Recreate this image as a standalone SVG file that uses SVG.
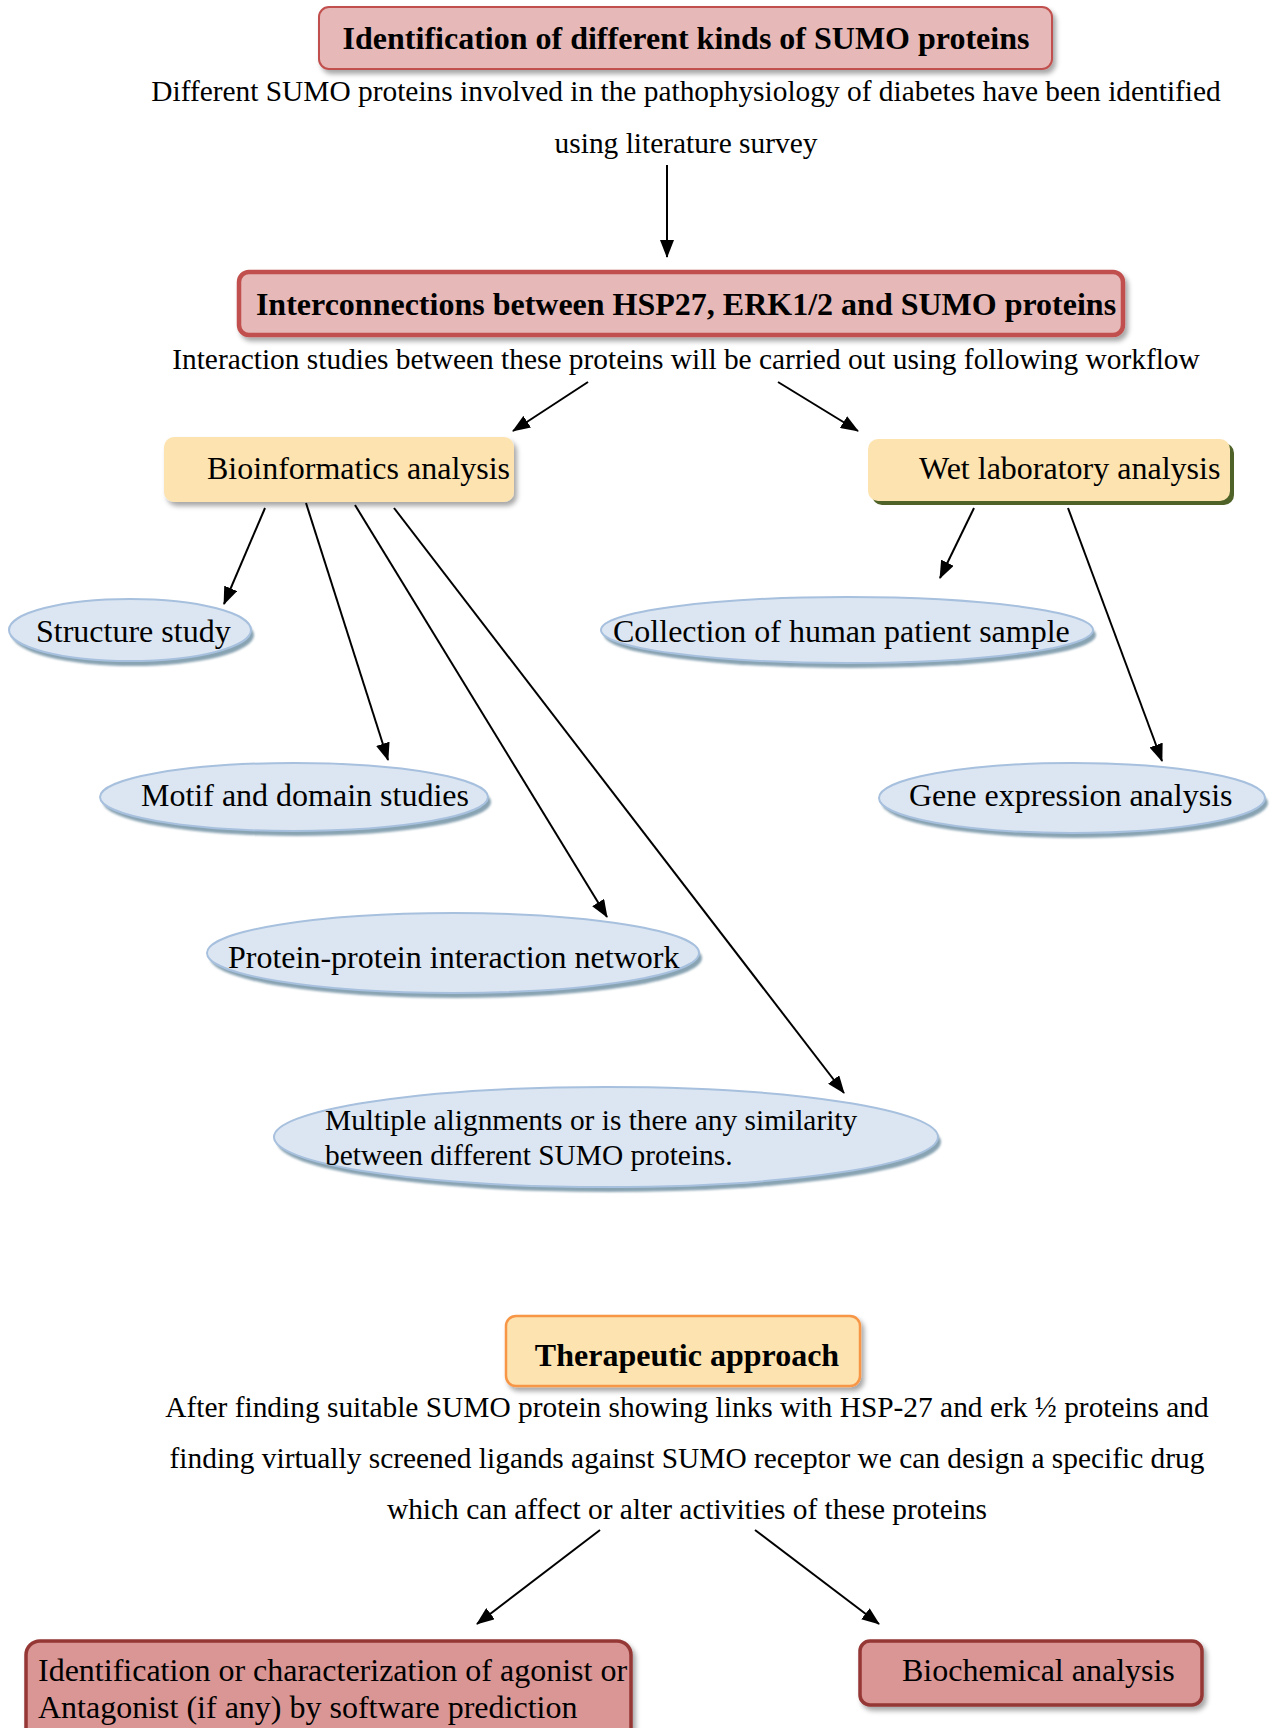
<svg xmlns="http://www.w3.org/2000/svg" width="1272" height="1728" viewBox="0 0 1272 1728">
<style>
  text { font-family: "Liberation Serif", "Times New Roman", serif; fill: #000; }
  .t32 { font-size: 32px; }
  .b32 { font-size: 32px; font-weight: bold; }
  .t29 { font-size: 29.4px; }
  .mid { text-anchor: middle; }
  .pink { fill: #e6b9b8; stroke: #c0504d; }
  .peach { fill: #fde3b0; }
  .ell { fill: #dce6f2; stroke: #a7c0de; stroke-width: 2; }
  .ellsh { fill: #88a3b2; }
  .rose { fill: #d99694; stroke: #953735; stroke-width: 3.5; }
  .conn line { stroke: #000; stroke-width: 2; marker-end: url(#ah); }
</style>
<defs>
  <marker id="ah" viewBox="0 0 18 14" refX="17" refY="7" markerWidth="18" markerHeight="14" markerUnits="userSpaceOnUse" orient="auto">
    <path d="M0,0 L18,7 L0,14 z" fill="#000"/>
  </marker>
  <filter id="sh" x="-10%" y="-20%" width="120%" height="150%">
    <feDropShadow dx="3" dy="4" stdDeviation="2.5" flood-color="#000" flood-opacity="0.35"/>
  </filter>
  <filter id="blur" x="-10%" y="-20%" width="120%" height="150%">
    <feGaussianBlur stdDeviation="1.2"/>
  </filter>
</defs>
<rect width="1272" height="1728" fill="#fff"/>

<g id="n-identification">
  <rect class="pink" x="319" y="7" width="733" height="62" rx="10" stroke-width="2" filter="url(#sh)"/>
  <text class="b32 mid" x="686" y="49">Identification of different kinds of SUMO proteins</text>
  <text class="t29 mid" x="686" y="101">Different SUMO proteins involved in the pathophysiology of diabetes have been identified</text>
  <text class="t29 mid" x="686" y="153">using literature survey</text>
</g>

<g id="n-interconnections">
  <rect class="pink" x="239" y="272" width="884" height="63" rx="10" stroke-width="4.5" filter="url(#sh)"/>
  <text class="b32 mid" x="686" y="315">Interconnections between HSP27, ERK1/2 and SUMO proteins</text>
  <text class="t29 mid" x="686" y="369">Interaction studies between these proteins will be carried out using following workflow</text>
</g>

<g id="n-bioinformatics">
  <rect class="peach" x="164" y="437" width="350" height="65" rx="10" filter="url(#sh)"/>
  <text class="t32" x="207" y="479">Bioinformatics analysis</text>
</g>

<g id="n-wetlab">
  <rect x="872" y="443" width="362" height="62" rx="10" fill="#4f6228"/>
  <rect class="peach" x="868" y="439" width="362" height="62" rx="10"/>
  <text class="t32" x="919" y="479">Wet laboratory analysis</text>
</g>

<g id="n-structure">
  <ellipse class="ellsh" cx="133" cy="635" rx="121" ry="31" filter="url(#blur)"/>
  <ellipse class="ell" cx="130" cy="630" rx="121" ry="31"/>
  <text class="t32" x="36" y="642">Structure study</text>
</g>

<g id="n-collection">
  <ellipse class="ellsh" cx="850" cy="635" rx="246" ry="33" filter="url(#blur)"/>
  <ellipse class="ell" cx="847" cy="630" rx="246" ry="33"/>
  <text class="t32" x="613" y="642">Collection of human patient sample</text>
</g>

<g id="n-motif">
  <ellipse class="ellsh" cx="297" cy="802" rx="194" ry="34" filter="url(#blur)"/>
  <ellipse class="ell" cx="294" cy="797" rx="194" ry="34"/>
  <text class="t32" x="141" y="806">Motif and domain studies</text>
</g>

<g id="n-gene">
  <ellipse class="ellsh" cx="1075" cy="803" rx="193" ry="35" filter="url(#blur)"/>
  <ellipse class="ell" cx="1072" cy="798" rx="193" ry="35"/>
  <text class="t32" x="909" y="806">Gene expression analysis</text>
</g>

<g id="n-ppi">
  <ellipse class="ellsh" cx="456" cy="958" rx="246" ry="40" filter="url(#blur)"/>
  <ellipse class="ell" cx="453" cy="953" rx="246" ry="40"/>
  <text class="t32" x="228" y="968">Protein-protein interaction network</text>
</g>

<g id="n-multiple">
  <ellipse class="ellsh" cx="609" cy="1142" rx="332" ry="50" filter="url(#blur)"/>
  <ellipse class="ell" cx="606" cy="1137" rx="332" ry="50"/>
  <text class="t29" x="325" y="1130">Multiple alignments or is there any similarity</text>
  <text class="t29" x="325" y="1165">between different SUMO proteins.</text>
</g>

<g id="n-therapeutic">
  <rect class="peach" x="506" y="1316" width="354" height="70" rx="10" stroke="#f79646" stroke-width="2.5" filter="url(#sh)"/>
  <text class="b32 mid" x="687" y="1366">Therapeutic approach</text>
  <text class="t29 mid" x="687" y="1417">After finding suitable SUMO protein showing links with HSP-27 and erk ½ proteins and</text>
  <text class="t29 mid" x="687" y="1468">finding virtually screened ligands against SUMO receptor we can design a specific drug</text>
  <text class="t29 mid" x="687" y="1519">which can affect or alter activities of these proteins</text>
</g>

<g id="n-agonist">
  <rect class="rose" x="26" y="1641" width="605" height="110" rx="14" filter="url(#sh)"/>
  <text class="t32" x="38" y="1681">Identification or characterization of agonist or</text>
  <text class="t32" x="38" y="1718">Antagonist (if any) by software prediction</text>
</g>

<g id="n-biochemical">
  <rect class="rose" x="860" y="1641" width="342" height="64" rx="10" stroke-width="2.5" filter="url(#sh)"/>
  <text class="t32" x="902" y="1681">Biochemical analysis</text>
</g>

<g id="connectors" class="conn">
  <line x1="667" y1="165" x2="667" y2="257"/>
  <line x1="588" y1="382" x2="513" y2="431"/>
  <line x1="778" y1="382" x2="858" y2="431"/>
  <line x1="265" y1="508" x2="224" y2="604"/>
  <line x1="306" y1="503" x2="388" y2="760"/>
  <line x1="355" y1="505" x2="607" y2="917"/>
  <line x1="394" y1="508" x2="844" y2="1093"/>
  <line x1="974" y1="508" x2="940" y2="578"/>
  <line x1="1068" y1="508" x2="1162" y2="761"/>
  <line x1="600" y1="1530" x2="477" y2="1624"/>
  <line x1="755" y1="1530" x2="879" y2="1624"/>
</g>
</svg>
